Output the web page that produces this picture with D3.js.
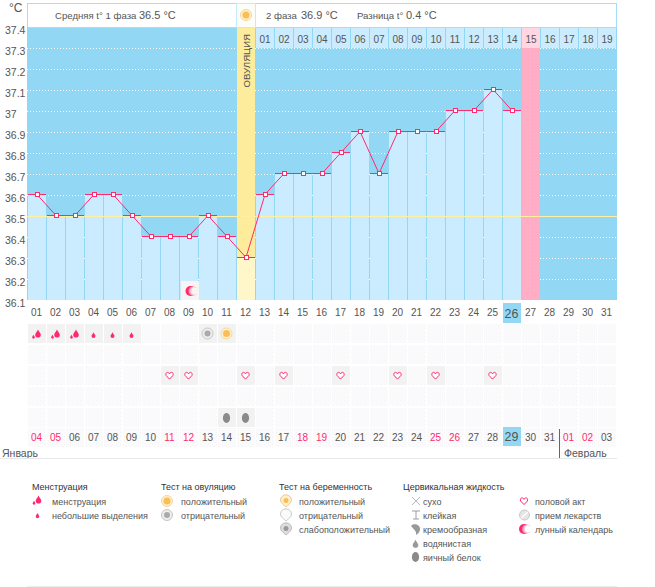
<!DOCTYPE html>
<html>
<head>
<meta charset="utf-8">
<script src="https://cdn.jsdelivr.net/npm/d3@7"></script>
<style>
html, body { margin: 0; padding: 0; background: #fff; }
svg { display: block; }
text { font-family: "Liberation Sans", sans-serif; font-size: 10px; fill: #555; }
.axis path, .axis line { display: none; }
.box { shape-rendering: crispEdges; }
</style>
</head>
<body>
<div id="chart"></div>
<script>
// Data
//==============================================================
var cycleDays = d3.range(1, 32).map(d => d3.format("02")(d));
var temps = [36.6, 36.5, 36.5, 36.6, 36.6, 36.5, 36.4, 36.4, 36.4, 36.5, 36.4, 36.3, 36.6,
    36.7, 36.7, 36.7, 36.8, 36.9, 36.7, 36.9, 36.9, 36.9, 37, 37, 37.1, 37];
var tempTicks = [37.4, 37.3, 37.2, 37.1, 37, 36.9, 36.8, 36.7, 36.6, 36.5, 36.4, 36.3, 36.2, 36.1];
var calendarDates = ["04", "05", "06", "07", "08", "09", "10", "11", "12", "13", "14", "15", "16", "17", "18", "19",
    "20", "21", "22", "23", "24", "25", "26", "27", "28", "29", "30", "31", "01", "02", "03"];
var weekendCols = [1, 2, 8, 9, 15, 16, 22, 23, 29, 30];
var phaseTwoDays = ["01", "02", "03", "04", "05", "06", "07", "08", "09", "10", "11", "12", "13", "14", "15", "16", "17", "18", "19"];
var ovulationCol = 12, periodCol = 27, todayCol = 26, moonCol = 9, monthBreakCol = 29;
var avgTemp = 36.5;
var heavyDays = [1, 2, 3], lightDays = [4, 5, 6];
var ovNegDays = [10], ovPosDays = [11];
var heartDays = [8, 9, 12, 14, 17, 20, 22, 25];
var eggDays = [11, 12];
var rowCount = [0, 1, 2, 3, 4];

var legendTitles = ["Менструация", "Тест на овуляцию", "Тест на беременность", "Цервикальная жидкость"];
var legendMenses = ["менструация", "небольшие выделения"];
var legendOvulation = ["положительный", "отрицательный"];
var legendPregnancy = ["положительный", "отрицательный", "слабоположительный"];
var legendFluid = ["сухо", "клейкая", "кремообразная", "водянистая", "яичный белок"];
var legendOther = ["половой акт", "прием лекарств", "лунный календарь"];

// Set up the chart
//==============================================================
var svgWidth = 655;
var svgHeight = 587;
var pink = "#ff2a6d", blue = "#92d8f5", pale = "#cbecfe", yellow = "#fdec9c";

var svg = d3.select("#chart").append("svg")
    .attr("width", svgWidth)
    .attr("height", svgHeight);

var x = d3.scaleBand().domain(d3.range(1, 32)).range([27, 616]);
var y = d3.scaleLinear().domain([36.1, 37.4]).range([300, 27]);
var bw = x.bandwidth();
var mid = d => x(d) + bw / 2;

var defs = svg.append("defs");
var tile = defs.append("pattern").attr("id", "tile").attr("patternUnits", "userSpaceOnUse")
    .attr("width", 4).attr("height", 4);
tile.append("rect").attr("width", 4).attr("height", 4).attr("fill", "#fbfbfc");
tile.append("rect").attr("x", 0).attr("y", 0).attr("width", 1).attr("height", 1).attr("fill", "#f4f4f7");
tile.append("rect").attr("x", 2).attr("y", 2).attr("width", 1).attr("height", 1).attr("fill", "#f4f4f7");
var dots = defs.append("pattern").attr("id", "dots").attr("patternUnits", "userSpaceOnUse")
    .attr("width", 4).attr("height", 4);
dots.append("rect").attr("width", 4).attr("height", 4).attr("fill", "#ffadc4");
dots.append("rect").attr("x", 1).attr("y", 1).attr("width", 1).attr("height", 1).attr("fill", "#ffb9cd");

// Plot background
//==============================================================
var plot = svg.append("g").attr("class", "box");
plot.append("rect").attr("x", 27).attr("y", 27).attr("width", 590).attr("height", 273).attr("fill", blue);

plot.selectAll(".grid").data(tempTicks.slice(1)).enter().append("line")
    .attr("x1", 27).attr("x2", 617)
    .attr("y1", d => y(d) + 0.5).attr("y2", d => y(d) + 0.5)
    .attr("stroke", "#fff").attr("stroke-dasharray", "1 2");

// light column under each temperature
plot.selectAll(".col").data(temps).enter().append("rect")
    .attr("x", (d, i) => x(i + 1) + 1)
    .attr("width", (d, i) => i + 1 == ovulationCol ? 0 : bw - 1)
    .attr("y", d => y(d))
    .attr("height", d => 300 - y(d))
    .attr("fill", pale);

plot.append("rect").attr("x", x(ovulationCol) + 1).attr("width", bw - 1).attr("y", 27).attr("height", 273).attr("fill", yellow);
plot.append("rect").attr("x", x(ovulationCol) + 1).attr("width", bw - 1)
    .attr("y", y(temps[ovulationCol - 1])).attr("height", 300 - y(temps[ovulationCol - 1])).attr("fill", "#fff6c9");
plot.append("rect").attr("x", x(periodCol) + 1).attr("width", bw - 1).attr("y", 48).attr("height", 252).attr("fill", "url(#dots)");

plot.append("line").attr("x1", 27).attr("x2", 617).attr("y1", y(avgTemp) + 0.5).attr("y2", y(avgTemp) + 0.5)
    .attr("stroke", "#fdf0a0");

// Header
//==============================================================
var head = svg.append("g").attr("class", "box");
head.append("rect").attr("x", 27.5).attr("y", 3.5).attr("width", 589).attr("height", 23.5)
    .attr("fill", "#fff").attr("stroke", "#a6def6");
head.append("rect").attr("x", 236.5).attr("y", 3.5).attr("width", 19).attr("height", 23.5)
    .attr("fill", "#fdfdf8").attr("stroke", "#c5ebfa");

head.selectAll(".hcell").data(phaseTwoDays).enter().append("rect")
    .attr("x", (d, i) => x(i + 13) + 1)
    .attr("width", bw - 1).attr("y", 28).attr("height", 20)
    .attr("fill", (d, i) => i + 13 == periodCol ? "#ffd6e2" : pale);

svg.selectAll(".htext").data(phaseTwoDays).enter().append("text")
    .attr("x", (d, i) => mid(i + 13) + 0.5).attr("y", 43)
    .attr("text-anchor", "middle").text(d => d);

svg.append("text").attr("x", 55).attr("y", 19).style("font-size", "9.6px").text("Средняя t° 1 фаза");
svg.append("text").attr("x", 139).attr("y", 19).style("font-size", "11px").text("36.5 °C");
svg.append("text").attr("x", 266).attr("y", 19).style("font-size", "9.6px").text("2 фаза");
svg.append("text").attr("x", 301).attr("y", 19).style("font-size", "11px").text("36.9 °C");
svg.append("text").attr("x", 357).attr("y", 19).style("font-size", "9.6px").text("Разница t°");
svg.append("text").attr("x", 406).attr("y", 19).style("font-size", "11px").text("0.4 °C");
svg.append("text")
    .attr("transform", "translate(250,34) rotate(-90)")
    .attr("text-anchor", "end")
    .style("font-size", "9.6px").style("fill", "#555").text("ОВУЛЯЦИЯ");

// Icons
//==============================================================
function sun(g, cx, cy) {
    g.append("circle").attr("cx", cx).attr("cy", cy).attr("r", 5.5).attr("fill", "#fdf0d0").attr("stroke", "#f8d79a");
    g.append("circle").attr("cx", cx).attr("cy", cy).attr("r", 3.5).attr("fill", "#fbbe55");
}
function greySun(g, cx, cy) {
    g.append("circle").attr("cx", cx).attr("cy", cy).attr("r", 5.5).attr("fill", "#eee").attr("stroke", "#c6c6c6");
    g.append("circle").attr("cx", cx).attr("cy", cy).attr("r", 3).attr("fill", "#aaa");
}
function drop(g, cx, cy, r, color) {
    g.append("path")
        .attr("d", `M${cx},${cy - r * 1.9} C${cx + r * 0.4},${cy - r} ${cx + r},${cy - r * 0.5} ${cx + r},${cy}
            A${r},${r} 0 1 1 ${cx - r},${cy} C${cx - r},${cy - r * 0.5} ${cx - r * 0.4},${cy - r} ${cx},${cy - r * 1.9}Z`)
        .attr("fill", color);
}
function heavy(g, cx, cy) {
    drop(g, cx + 1.5, cy + 0.8, 2.8, pink);
    drop(g, cx - 3, cy + 3.3, 1.4, pink);
}
function egg(g, cx, cy, rx, ry, color) {
    g.append("ellipse").attr("cx", cx).attr("cy", cy).attr("rx", rx).attr("ry", ry).attr("fill", color);
}
function heart(g, cx, cy) {
    g.append("path")
        .attr("d", `M${cx},${cy + 3.6} L${cx - 3.4},${cy} C${cx - 4.6},${cy - 3.6} ${cx - 0.8},${cy - 4} ${cx},${cy - 1.6}
            C${cx + 0.8},${cy - 4} ${cx + 4.6},${cy - 3.6} ${cx + 3.4},${cy} Z`)
        .attr("fill", "#fff").attr("stroke", pink).attr("stroke-width", 1);
}
function moon(g, cx, cy, bg) {
    g.append("circle").attr("cx", cx).attr("cy", cy).attr("r", 5).attr("fill", pink);
    g.append("circle").attr("cx", cx + 2.6).attr("cy", cy).attr("r", 4.6).attr("fill", "#ff8fb0");
    g.append("circle").attr("cx", cx + 3.6).attr("cy", cy).attr("r", 4).attr("fill", "#fbd0dc");
    g.append("circle").attr("cx", cx + 4.4).attr("cy", cy).attr("r", 3.4).attr("fill", bg);
}
function pregnancy(g, cx, cy, fill, stroke, core) {
    g.append("path")
        .attr("d", `M${cx - 5.5},${cy - 1} A5.5,5.2 0 0 1 ${cx + 5.5},${cy - 1} C${cx + 5.5},${cy + 2} ${cx + 2},${cy + 4} ${cx},${cy + 6}
            C${cx - 2},${cy + 4} ${cx - 5.5},${cy + 2} ${cx - 5.5},${cy - 1}Z`)
        .attr("fill", fill).attr("stroke", stroke);
    if (core) g.append("circle").attr("cx", cx).attr("cy", cy - 0.5).attr("r", 2.5).attr("fill", core);
}

// Symptom rows
//==============================================================
var rowY = d => 324 + d * 21;
var rows = svg.append("g").attr("class", "box");
rowCount.forEach(function(r) {
    rows.selectAll(".cell" + r).data(d3.range(1, 32)).enter().append("rect")
        .attr("x", d => x(d) + 1).attr("y", rowY(r))
        .attr("width", bw - 1).attr("height", 19).attr("fill", "url(#tile)");
});
rows.selectAll(".dcell").data(d3.range(1, 32)).enter().append("rect")
    .attr("x", d => x(d) + 1).attr("y", 428)
    .attr("width", bw - 1).attr("height", 19).attr("fill", "url(#tile)");

function activeCells(days, r) {
    rows.selectAll(".on").data(days, d => d + "-" + r).enter().append("rect")
        .attr("x", d => x(d) + 1).attr("y", rowY(r))
        .attr("width", bw - 1).attr("height", 19).attr("fill", "#f2f2f3");
}
activeCells(heavyDays.concat(lightDays, ovNegDays, ovPosDays), 0);
activeCells(heartDays, 2);
activeCells(eggDays, 4);

// moon cell sits on the chart
rows.append("rect").attr("x", x(moonCol) + 2).attr("y", 281).attr("width", bw - 1).attr("height", 19).attr("fill", "#f5f5f5");
rows.append("rect").attr("x", x(todayCol) + 1).attr("y", 303).attr("width", bw - 1).attr("height", 20).attr("fill", blue);
rows.append("rect").attr("x", x(todayCol) + 1).attr("y", 427).attr("width", bw - 1).attr("height", 19).attr("fill", blue);

// Axes
//==============================================================
var leftAxis = d3.axisLeft(y).tickValues(tempTicks).tickSize(0).tickFormat(d => d);
svg.append("g").attr("class", "axis").call(leftAxis)
    .selectAll("text")
    .attr("x", 5).attr("dy", "0.7em").attr("y", -1)
    .attr("text-anchor", "start").style("font-size", "10.5px");

svg.append("text").attr("x", 9).attr("y", 12).style("font-size", "12px").text("°C");

var bottomAxis = d3.axisBottom(x).tickSize(0).tickFormat(d => cycleDays[d - 1]);
svg.append("g").attr("class", "axis").attr("transform", "translate(0,309)").call(bottomAxis)
    .selectAll("text").attr("y", 0).attr("dy", "0.71em");

svg.selectAll(".axis text").filter(d => d === todayCol).style("font-size", "12.5px");

var icons = svg.append("g");
heavyDays.forEach(d => heavy(icons, mid(d), rowY(0) + 10));
lightDays.forEach(d => drop(icons, mid(d), rowY(0) + 12, 2, pink));
ovNegDays.forEach(d => greySun(icons, mid(d), rowY(0) + 9.5));
ovPosDays.forEach(d => sun(icons, mid(d), rowY(0) + 9.5));
heartDays.forEach(d => heart(icons, mid(d), rowY(2) + 9.5));
eggDays.forEach(d => egg(icons, mid(d), rowY(4) + 10, 3.6, 5, "#8a8a8a"));
moon(icons, mid(moonCol) + 2, 291, "#f5f5f5");
sun(icons, 246, 15);

// Calendar dates
svg.selectAll(".date").data(calendarDates).enter().append("text")
    .attr("x", (d, i) => mid(i + 1)).attr("y", 441)
    .attr("text-anchor", "middle")
    .style("fill", (d, i) => weekendCols.indexOf(i + 1) >= 0 ? pink : "#555")
    .style("font-size", (d, i) => i + 1 == todayCol ? "12.5px" : "10px")
    .text(d => d);

svg.append("text").attr("x", 2).attr("y", 457).style("font-size", "10.5px").text("Январь");
svg.append("text").attr("x", 564).attr("y", 457).style("font-size", "10.5px").text("Февраль");
svg.append("line").attr("x1", x(monthBreakCol) + 0.5).attr("x2", x(monthBreakCol) + 0.5).attr("y1", 429).attr("y2", 458).attr("stroke", "#666");
svg.append("line").attr("x1", 0).attr("x2", 617).attr("y1", 458.5).attr("y2", 458.5).attr("stroke", "#e8e8e8");
svg.append("line").attr("x1", 27).attr("x2", 617).attr("y1", 586.5).attr("y2", 586.5).attr("stroke", "#eee");

// The temperature line
//==============================================================
var lineGen = d3.line().x((d, i) => mid(i + 1) + 0.5).y(d => y(d) - 0.5);
var marks = svg.append("g");
marks.selectAll(".flat").data(temps).enter().append("line")
    .attr("class", "box")
    .attr("x1", (d, i) => x(i + 1) + 1).attr("x2", (d, i) => x(i + 1) + bw)
    .attr("y1", d => y(d) - 0.5).attr("y2", d => y(d) - 0.5)
    .attr("stroke", pink);
marks.append("path").datum(temps)
    .attr("d", lineGen).attr("fill", "none").attr("stroke", pink).attr("stroke-width", 1);
marks.selectAll(".pt").data(temps).enter().append("rect")
    .attr("class", "box")
    .attr("x", (d, i) => mid(i + 1) - 1.5).attr("y", d => y(d) - 2.5)
    .attr("width", 4).attr("height", 4)
    .attr("fill", "#fff").attr("stroke", pink);

// Legend
//==============================================================
var legendTitleX = [32, 161, 279, 403];
var legend = svg.append("g");
legend.selectAll(".ltitle").data(legendTitles).enter().append("text")
    .attr("x", (d, i) => legendTitleX[i]).attr("y", 490)
    .style("fill", "#333").style("font-size", "9px").text(d => d);

function legendList(names, lx) {
    legend.selectAll(".item" + lx).data(names).enter().append("text")
        .attr("x", lx).attr("y", (d, i) => 505 + i * 14).style("font-size", "9px").text(d => d);
}
legendList(legendMenses, 52);
legendList(legendOvulation, 181);
legendList(legendPregnancy, 299);
legendList(legendFluid, 423);
legendList(legendOther, 535);

var rowLy = i => 501 + i * 14;
heavy(legend, 37, rowLy(0) - 1);
drop(legend, 37.5, rowLy(1) + 1.5, 1.8, pink);
sun(legend, 167, rowLy(0));
greySun(legend, 167, rowLy(1));
pregnancy(legend, 286, rowLy(0), "#fdf0d0", "#f0c88a", "#fbbe55");
pregnancy(legend, 286, rowLy(1), "#fafafa", "#ccc", null);
pregnancy(legend, 286, rowLy(2), "#ddd", "#bbb", "#999");

legend.append("path").attr("d", `M412,${rowLy(0) - 4} L420,${rowLy(0) + 4} M420,${rowLy(0) - 4} L412,${rowLy(0) + 4}`)
    .attr("stroke", "#999").attr("stroke-width", 0.7);
legend.append("path").attr("d", `M412,${rowLy(1) - 4} H420 M416,${rowLy(1) - 4} V${rowLy(1) + 4} M413,${rowLy(1) + 4} H419`)
    .attr("stroke", "#888").attr("fill", "none").attr("stroke-width", 0.8);
legend.append("path").attr("d", `M411,${rowLy(2) - 3} C413,${rowLy(2) - 6} 420,${rowLy(2) - 5} 420,${rowLy(2)} C420,${rowLy(2) + 3} 418,${rowLy(2) + 5} 416,${rowLy(2) + 6} C417,${rowLy(2) + 2} 414,${rowLy(2) + 1} 411,${rowLy(2) - 3}Z`)
    .attr("fill", "#999");
drop(legend, 415.5, rowLy(3) + 2, 2.8, "#999");
egg(legend, 415.5, rowLy(4), 3.6, 5, "#8a8a8a");

heart(legend, 524, rowLy(0));
legend.append("circle").attr("cx", 524.5).attr("cy", rowLy(1)).attr("r", 5).attr("fill", "#e6e6e6").attr("stroke", "#c8c8c8");
legend.append("line").attr("x1", 521).attr("y1", rowLy(1) + 3).attr("x2", 528).attr("y2", rowLy(1) - 3).attr("stroke", "#fff").attr("stroke-width", 1.2);
moon(legend, 524, rowLy(2), "#fff");
</script>
</body>
</html>
